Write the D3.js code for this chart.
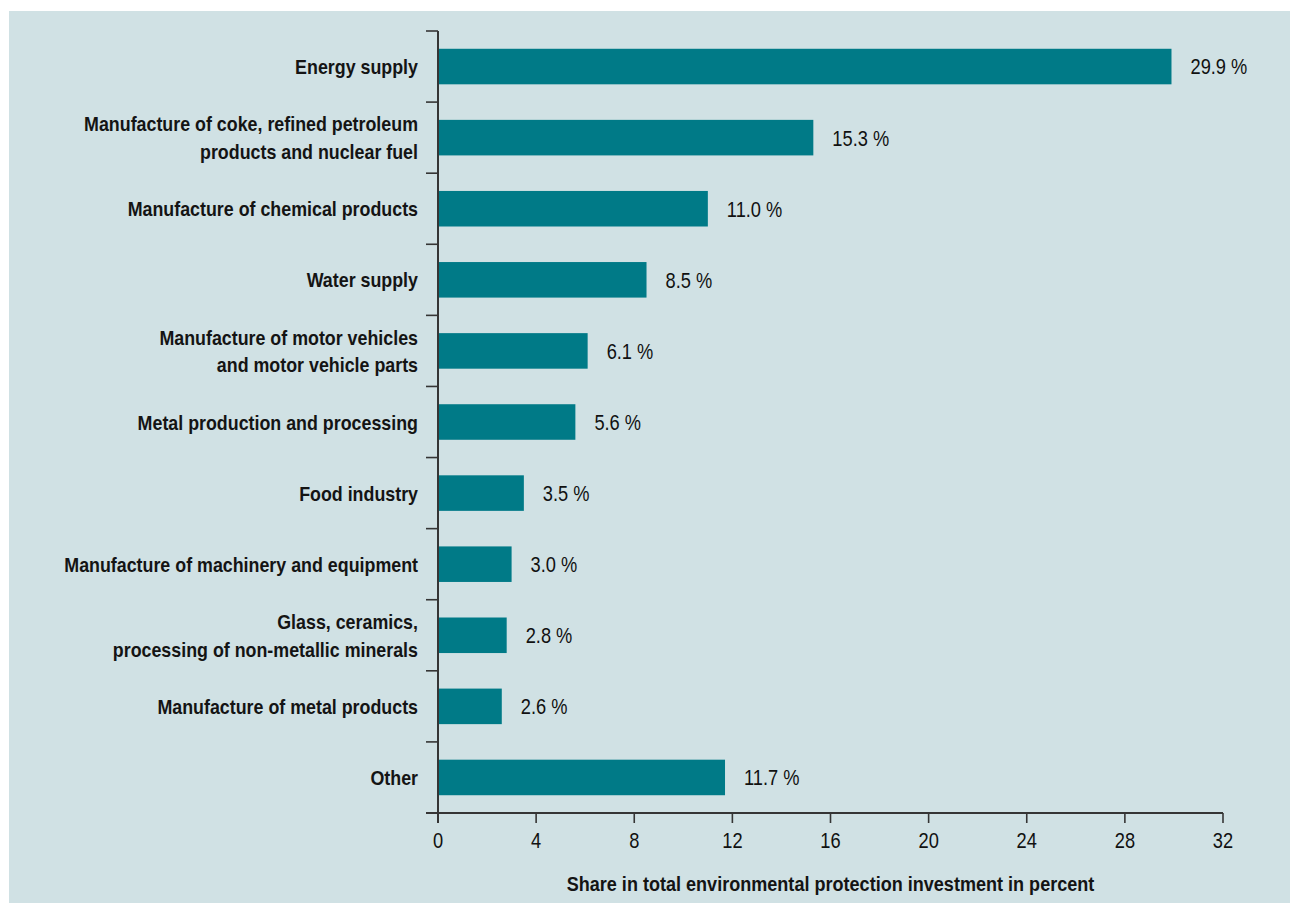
<!DOCTYPE html>
<html>
<head>
<meta charset="utf-8">
<script src="https://cdn.jsdelivr.net/npm/d3@7"></script>
<style>
  html, body { margin: 0; padding: 0; background: #ffffff; }
  svg { display: block; }
</style>
</head>
<body>
<svg id="chart" width="1290" height="903"></svg>
<script>
// Industries, each label split into its display lines
const categories = [
  ["Energy supply"],
  ["Manufacture of coke, refined petroleum", "products and nuclear fuel"],
  ["Manufacture of chemical products"],
  ["Water supply"],
  ["Manufacture of motor vehicles", "and motor vehicle parts"],
  ["Metal production and processing"],
  ["Food industry"],
  ["Manufacture of machinery and equipment"],
  ["Glass, ceramics,", "processing of non-metallic minerals"],
  ["Manufacture of metal products"],
  ["Other"]
];
// Share in total environmental protection investment, percent
const shares = [29.9, 15.3, 11.0, 8.5, 6.1, 5.6, 3.5, 3.0, 2.8, 2.6, 11.7];
const xTicks = [0, 4, 8, 12, 16, 20, 24, 28, 32];
const xTitle = "Share in total environmental protection investment in percent";

(function draw() {
  const svg = d3.select("#chart");
  const W = 1290, H = 903;

  // panel background
  svg.append("rect")
    .attr("x", 9).attr("y", 11)
    .attr("width", W - 9).attr("height", H - 11)
    .attr("fill", "#d0e1e4");

  const plotL = 438, plotR = 1223, plotT = 31, plotB = 813;
  const ids = categories.map((c, i) => i);
  const data = ids.map(i => ({ id: i, lines: categories[i], value: shares[i] }));

  const x = d3.scaleLinear().domain([0, 32]).range([plotL, plotR]);
  const y = d3.scaleBand().domain(ids).range([plotT, plotB])
    .paddingInner(0.5).paddingOuter(0.25);

  // narrow type: a regular sans squeezed horizontally
  const font = "'Liberation Sans', Arial, sans-serif";
  const narrow = 0.83;
  const axisColor = "#353535";
  const place = (px, py, s) => `translate(${px},${py}) scale(${s},1)`;

  // bars
  svg.append("g").selectAll("rect")
    .data(data).join("rect")
    .attr("x", x(0))
    .attr("y", d => y(d.id))
    .attr("width", d => x(d.value) - x(0))
    .attr("height", y.bandwidth())
    .attr("fill", "#007a87");

  // value labels
  svg.append("g").selectAll("text")
    .data(data).join("text")
    .attr("transform", d => place(x(d.value) + 19, y(d.id) + y.bandwidth() / 2, narrow))
    .attr("dy", "0.36em")
    .attr("font-family", font)
    .attr("font-size", 22)
    .attr("fill", "#111")
    .text(d => d3.format(".1f")(d.value) + " %");

  // category axis: ticks at band boundaries
  const step = y.step();
  const n = categories.length;
  const bounds = d3.range(n + 1).map(i => i === n
    ? y(ids[i - 1]) + y.bandwidth() + step * 0.25
    : y(ids[i]) - step * 0.25);

  const yAxis = svg.append("g");
  yAxis.selectAll("line.tick")
    .data(bounds).join("line")
    .attr("class", "tick")
    .attr("x1", plotL - 12).attr("x2", plotL)
    .attr("y1", d => d).attr("y2", d => d)
    .attr("stroke", axisColor).attr("stroke-width", 1.6);
  yAxis.append("line")
    .attr("x1", plotL).attr("x2", plotL)
    .attr("y1", plotT).attr("y2", plotB + 10)
    .attr("stroke", axisColor).attr("stroke-width", 2);

  // category labels
  const catLabels = svg.append("g").selectAll("text")
    .data(data).join("text")
    .attr("text-anchor", "end")
    .attr("font-family", font)
    .attr("font-weight", "bold")
    .attr("font-size", 21)
    .attr("fill", "#141414")
    .attr("transform", d => place(plotL - 20, y(d.id) + y.bandwidth() / 2, 0.85));
  catLabels.each(function (d) {
    const k = d.lines.length;
    const lh = 27.5;
    d3.select(this).selectAll("tspan")
      .data(d.lines).join("tspan")
      .attr("x", 0)
      .attr("y", (t, i) => (i - (k - 1) / 2) * lh)
      .attr("dy", "0.36em")
      .text(t => t);
  });

  // value axis
  const xAxis = svg.append("g");
  xAxis.append("line")
    .attr("x1", plotL - 12).attr("x2", plotR)
    .attr("y1", plotB).attr("y2", plotB)
    .attr("stroke", axisColor).attr("stroke-width", 2);
  xAxis.selectAll("line.tick")
    .data(xTicks).join("line")
    .attr("class", "tick")
    .attr("x1", d => x(d)).attr("x2", d => x(d))
    .attr("y1", plotB).attr("y2", plotB + 10)
    .attr("stroke", axisColor).attr("stroke-width", 1.6);
  xAxis.selectAll("text")
    .data(xTicks).join("text")
    .attr("transform", d => place(x(d), 848, narrow))
    .attr("text-anchor", "middle")
    .attr("font-family", font)
    .attr("font-size", 22)
    .attr("fill", "#111")
    .text(d => d);

  svg.append("text")
    .attr("transform", place((plotL + plotR) / 2, 891, 0.86))
    .attr("text-anchor", "middle")
    .attr("font-family", font)
    .attr("font-weight", "bold")
    .attr("font-size", 21)
    .attr("fill", "#141414")
    .text(xTitle);
})();
</script>
</body>
</html>
